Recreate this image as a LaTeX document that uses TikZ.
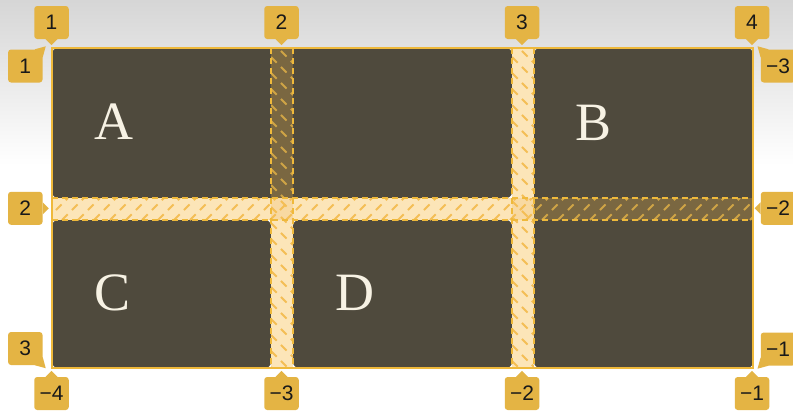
\documentclass[tikz,border=0pt]{standalone}
\usepackage{fontspec}
\setmainfont{Liberation Sans}
\newfontfamily\letterfont{Liberation Serif}
\usetikzlibrary{calc}
\definecolor{bgtop}{HTML}{D6D6D6}
\definecolor{cellc}{HTML}{4F4A3D}
\definecolor{gapl}{HTML}{FCE5B8}
\definecolor{gapx}{HTML}{F8D9A2}
\definecolor{gapd}{HTML}{7A6741}
\definecolor{hatchl}{HTML}{F4BE55}
\definecolor{hatchd}{HTML}{CFA446}
\definecolor{edgec}{HTML}{EFB93B}
\definecolor{lblc}{HTML}{E4B444}
\definecolor{letc}{HTML}{F7F2E4}
\begin{document}
\begin{tikzpicture}[x=1pt,y=-1pt,
  lbl/.style={fill=lblc, rounded corners=3pt, minimum width=34.5pt, minimum height=33pt, inner sep=0pt, text=black!90, font=\fontsize{21}{21}\selectfont},
  letter/.style={anchor=base, text=letc, inner sep=0pt, font=\letterfont\fontsize{54}{54}\selectfont},
  cell/.style={fill=cellc, rounded corners=6pt},
  gapedge/.style={draw=edgec, line width=1.5pt, dash pattern=on 6pt off 4pt},
  hatchlight/.style={draw=hatchl, line width=1.8pt, dash pattern=on 8pt off 6pt},
  hatchdark/.style={draw=hatchd, line width=1.8pt, dash pattern=on 8pt off 6pt},
  ptr/.style={fill=lblc}
]
\useasboundingbox (0,0) rectangle (793,410);
\shade[top color=bgtop, bottom color=white] (0,0) rectangle (793,165);
\fill[white] (0,165) rectangle (793,410);

% grid items
\fill[cell] (52,48) rectangle (512,198);
\fill[cell] (534,48) rectangle (753,368);
\fill[cell] (52,220) rectangle (271,368);
\fill[cell] (293,220) rectangle (512,368);

% gap fills
\fill[gapd] (271,48) rectangle (293,198);
\fill[gapl] (271,220) rectangle (293,368);
\fill[gapl] (512,48) rectangle (534,198);
\fill[gapl] (512,220) rectangle (534,368);
\fill[gapl] (52,198) rectangle (271,220);
\fill[gapl] (293,198) rectangle (512,220);
\fill[gapd] (534,198) rectangle (753,220);
\fill[gapx] (271,198) rectangle (293,220);
\fill[gapx] (512,198) rectangle (534,220);

% hatching: row gap
\begin{scope}
  \clip (52,198) rectangle (534,220);
  \foreach \x in {30,46,...,540} \draw[hatchlight] (\x,220) -- (\x+22,198);
\end{scope}
\begin{scope}
  \clip (534,198) rectangle (753,220);
  \foreach \x in {510,526,...,760} \draw[hatchdark] (\x,220) -- (\x+22,198);
\end{scope}
% hatching: column gaps
\begin{scope}
  \clip (271,48) rectangle (293,198);
  \foreach \y in {25,41,...,200} \draw[hatchdark] (271,\y) -- (293,\y+22);
\end{scope}
\begin{scope}
  \clip (271,198) rectangle (293,368);
  \foreach \y in {175,191,...,370} \draw[hatchlight] (271,\y) -- (293,\y+22);
\end{scope}
\begin{scope}
  \clip (512,48) rectangle (534,368);
  \foreach \y in {25,41,...,370} \draw[hatchlight] (512,\y) -- (534,\y+22);
\end{scope}

% gap edges
\draw[gapedge] (271,48) -- (271,368);
\draw[gapedge] (293,48) -- (293,368);
\draw[gapedge] (512,48) -- (512,368);
\draw[gapedge] (534,48) -- (534,368);
\draw[gapedge] (52,198) -- (753,198);
\draw[gapedge] (52,220) -- (753,220);

% container border
\draw[draw=edgec, line width=1.5pt] (52,48) rectangle (753,368);

% letters
\node[letter] (la) at (114,139) {A};
\node[letter] (lb) at (594,140) {B};
\node[letter] (lc) at (113,310) {C};
\node[letter] (ld) at (355,310) {D};

% column labels (top)
\node[lbl] (c1) at (51.5,22.5) {1};
\node[lbl] (c2) at (281.5,22.5) {2};
\node[lbl] (c3) at (522,22.5) {3};
\node[lbl] (c4) at (752,22.5) {4};
\foreach \n in {c1,c2,c3,c4}
  \fill[ptr] ($(\n.south)+(-6,0)$) -- ($(\n.south)+(0,6)$) -- ($(\n.south)+(6,0)$) -- cycle;
% column labels (bottom)
\node[lbl] (b4) at (51.5,393.5) {−4};
\node[lbl] (b3) at (281.5,393.5) {−3};
\node[lbl] (b2) at (522,393.5) {−2};
\node[lbl] (b1) at (752,393.5) {−1};
\foreach \n in {b4,b3,b2,b1}
  \fill[ptr] ($(\n.north)+(-6,0)$) -- ($(\n.north)+(0,-6)$) -- ($(\n.north)+(6,0)$) -- cycle;
% row labels (left)
\node[lbl] (r1) at (25.3,66) {1};
\node[lbl] (r2) at (25.3,208.3) {2};
\node[lbl] (r3) at (25.3,348.5) {3};
\fill[ptr] ($(r2.east)+(0,-6)$) -- ($(r2.east)+(6,0)$) -- ($(r2.east)+(0,6)$) -- cycle;
\fill[ptr] ($(r1.north east)+(-8,0)$) -- ($(r1.north east)+(3,-3)$) -- ($(r1.north east)+(0,8)$) -- cycle;
\fill[ptr] ($(r3.south east)+(-8,0)$) -- ($(r3.south east)+(3,3)$) -- ($(r3.south east)+(0,-8)$) -- cycle;
% row labels (right)
\node[lbl] (q3) at (778,66) {−3};
\node[lbl] (q2) at (778,208.3) {−2};
\node[lbl] (q1) at (778,349) {−1};
\fill[ptr] ($(q2.west)+(0,-6)$) -- ($(q2.west)+(-6,0)$) -- ($(q2.west)+(0,6)$) -- cycle;
\fill[ptr] ($(q3.north west)+(8,0)$) -- ($(q3.north west)+(-3,-3)$) -- ($(q3.north west)+(0,8)$) -- cycle;
\fill[ptr] ($(q1.south west)+(8,0)$) -- ($(q1.south west)+(-3,3)$) -- ($(q1.south west)+(0,-8)$) -- cycle;
\end{tikzpicture}
\end{document}
